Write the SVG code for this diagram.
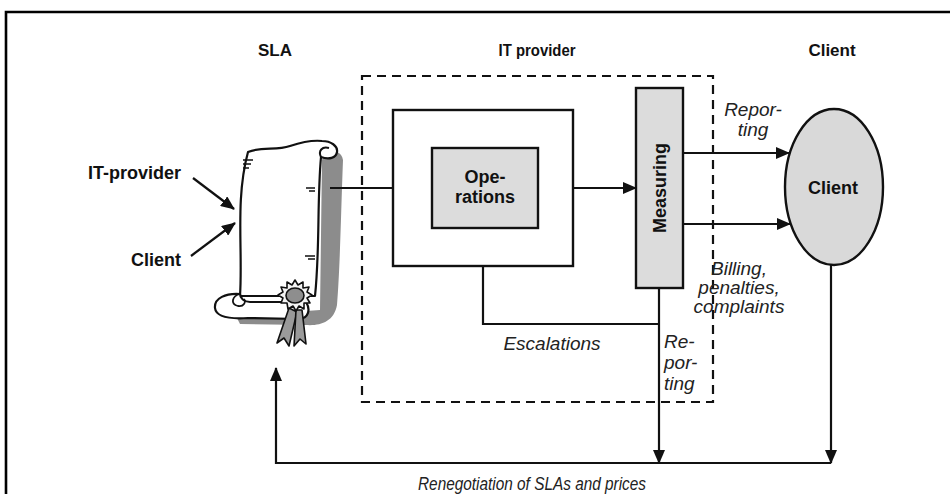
<svg xmlns="http://www.w3.org/2000/svg" width="950" height="494" viewBox="0 0 950 494">
  <style>
    .ln { fill: none; stroke: #111; stroke-width: 2.2; }
    .box { stroke: #111; stroke-width: 2.4; }
    .dash { fill: none; stroke: #111; stroke-width: 2.2; stroke-dasharray: 9 6; }
    .b { font-family: "Liberation Sans", Arial, sans-serif; font-weight: bold; fill: #111; }
    .i { font-family: "Liberation Sans", Arial, sans-serif; font-style: italic; fill: #222; }
  </style>
  <defs>
    <marker id="arr" viewBox="0 0 14 12" refX="13" refY="6" markerWidth="14" markerHeight="12" markerUnits="userSpaceOnUse" orient="auto">
      <path d="M0,0 L14,6 L0,12 Z" fill="#111"/>
    </marker>
  </defs>

  <!-- page frame -->
  <path d="M6,494 V12 H950" fill="none" stroke="#000" stroke-width="2.6"/>

  <!-- column headings -->
  <text class="b" x="275" y="56" font-size="17" text-anchor="middle">SLA</text>
  <text class="b" x="537" y="56" font-size="17" text-anchor="middle" textLength="77" lengthAdjust="spacingAndGlyphs">IT provider</text>
  <text class="b" x="832" y="56" font-size="17" text-anchor="middle">Client</text>

  <!-- provider boundary -->
  <rect class="dash" x="362" y="76" width="351" height="326"/>

  <!-- SLA scroll -->
  <g id="sla-scroll">
    <!-- shadow -->
    <path d="M326,150 C334,150 342,152 343,160 C341,210 340,270 337,305 C334,322 320,326 306,325 L240,324 L236,316 L320,310 L322,160 Z" fill="#8c8c8c"/>
    <!-- sheet -->
    <path d="M248,152 C262,146 276,151 290,146 C302,142 312,140 322,141 C331,141 338,146 337,152 C336,158 329,160 321,157 C317,200 320,250 315,296 L240,296 C243,250 235,200 248,152 Z" fill="#fff" stroke="#111" stroke-width="2.2" stroke-linejoin="round"/>
    <!-- top curl -->
    <path d="M321,157 C318,151 322,146 329,148" fill="none" stroke="#111" stroke-width="2"/>
    <!-- torn edge marks -->
    <path d="M243,160 H253 M243,164 H251 M243,168 H249 M306,188 H315 M309,191 H315 M305,256 H315 M308,259 H315" fill="none" stroke="#111" stroke-width="1.6"/>
    <!-- bottom roll -->
    <path d="M240,294 C226,293 214,298 215,308 C216,318 232,319 248,318 L300,319 C308,318 311,310 306,302 L250,302 C244,302 240,298 240,294 Z" fill="#fff" stroke="#111" stroke-width="2.2" stroke-linejoin="round"/>
    <path d="M240,294 C232,296 230,304 238,306 C244,307 246,302 244,299" fill="none" stroke="#111" stroke-width="1.8"/>
    <!-- ribbon -->
    <path d="M289,308 L277,343 L284,338 L289,346 L297,312 Z" fill="#9a9a9a" stroke="#111" stroke-width="1.6" stroke-linejoin="round"/>
    <path d="M296,310 L294,346 L300,339 L306,344 L302,310 Z" fill="#9a9a9a" stroke="#111" stroke-width="1.6" stroke-linejoin="round"/>
    <!-- seal -->
    <path d="M295,280 L298,285 L303,282 L303,288 L309,287 L307,292 L312,295 L307,298 L310,303 L304,303 L304,309 L299,306 L296,311 L293,306 L288,309 L287,303 L281,303 L283,298 L278,295 L283,292 L281,287 L287,288 L287,282 L292,285 Z" fill="#f4f4f4" stroke="#111" stroke-width="1.6" stroke-linejoin="round"/>
    <ellipse cx="295" cy="295.5" rx="9" ry="7.5" fill="#8e8e8e" stroke="#111" stroke-width="1.6"/>
  </g>

  <!-- parties signing -->
  <g id="party-provider">
    <text class="b" x="181" y="179" font-size="18" text-anchor="end">IT-provider</text>
  </g>
  <g id="party-client">
    <text class="b" x="181" y="266" font-size="18" text-anchor="end">Client</text>
  </g>

  <!-- provider unit with operations -->
  <g id="provider-unit">
    <rect class="box" x="393" y="110" width="180" height="156" fill="#fff"/>
  </g>
  <g id="operations">
    <rect class="box" x="432" y="148" width="106" height="80" fill="#dcdcdc"/>
    <text class="b" x="485" y="183" font-size="18" text-anchor="middle">Ope-</text>
    <text class="b" x="485" y="203" font-size="18" text-anchor="middle">rations</text>
  </g>

  <!-- measuring -->
  <g id="measuring">
    <rect class="box" x="636" y="88" width="47" height="200" fill="#dcdcdc"/>
    <text class="b" font-size="18" text-anchor="middle" transform="translate(666,188) rotate(-90)">Measuring</text>
  </g>

  <!-- client -->
  <g id="client">
    <ellipse class="box" cx="834" cy="187" rx="49" ry="78" fill="#d9d9d9"/>
    <text class="b" x="833" y="194" font-size="18" text-anchor="middle">Client</text>
  </g>

  <!-- connectors -->
  <g id="connectors">
    <line class="ln" x1="193" y1="178" x2="234" y2="209" marker-end="url(#arr)"/>
    <line class="ln" x1="191" y1="256" x2="235" y2="223" marker-end="url(#arr)"/>
    <line class="ln" x1="330" y1="188" x2="393" y2="188"/>
    <line class="ln" x1="573" y1="188" x2="636" y2="188" marker-end="url(#arr)"/>
    <line class="ln" x1="683" y1="153" x2="789" y2="153" marker-end="url(#arr)"/>
    <line class="ln" x1="683" y1="224" x2="790" y2="224" marker-end="url(#arr)"/>
    <path class="ln" d="M483,266 V324 H659"/>
    <line class="ln" x1="659" y1="288" x2="659" y2="463" marker-end="url(#arr)"/>
    <line class="ln" x1="831" y1="265" x2="831" y2="463" marker-end="url(#arr)"/>
    <path class="ln" d="M831,463 H276 V368" marker-end="url(#arr)"/>
  </g>

  <!-- connector labels -->
  <g id="labels">
    <text class="i" x="753" y="116" font-size="19" text-anchor="middle">Repor-</text>
    <text class="i" x="753" y="136" font-size="19" text-anchor="middle">ting</text>
    <text class="i" x="739" y="275" font-size="19" text-anchor="middle">Billing,</text>
    <text class="i" x="739" y="294" font-size="19" text-anchor="middle">penalties,</text>
    <text class="i" x="739" y="313" font-size="19" text-anchor="middle">complaints</text>
    <text class="i" x="552" y="350" font-size="19" text-anchor="middle">Escalations</text>
    <text class="i" x="664" y="348" font-size="19">Re-</text>
    <text class="i" x="664" y="369" font-size="19">por-</text>
    <text class="i" x="664" y="390" font-size="19">ting</text>
    <text class="i" x="532" y="490" font-size="18" text-anchor="middle" textLength="228" lengthAdjust="spacingAndGlyphs">Renegotiation of SLAs and prices</text>
  </g>
</svg>
